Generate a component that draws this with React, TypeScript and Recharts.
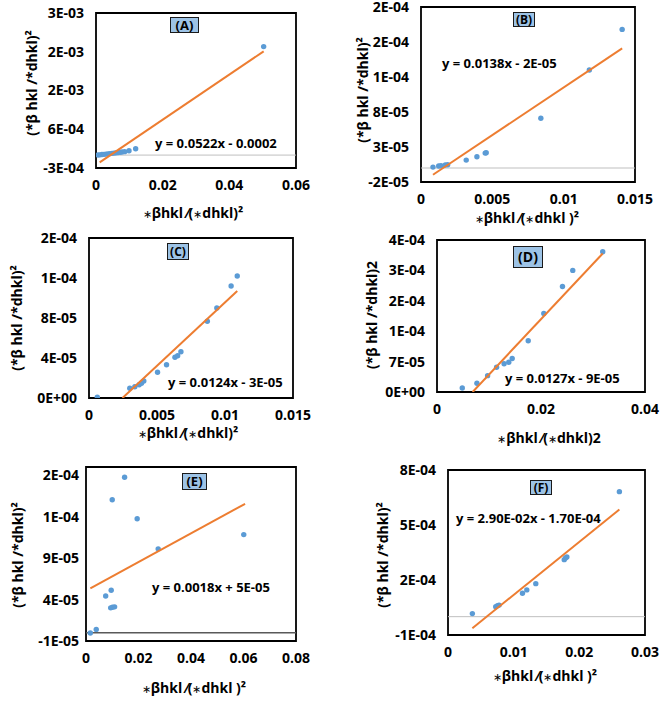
import React from "react";
import {
  ScatterChart,
  Scatter,
  XAxis,
  YAxis,
  ReferenceLine,
  ReferenceArea,
} from "recharts";

// Panel A
const aX = [0.0006, 0.0012, 0.0018, 0.0024, 0.003, 0.0036, 0.0042, 0.0048, 0.0054, 0.006, 0.0066, 0.0072, 0.0078, 0.0086, 0.0099, 0.0119, 0.0503];
const aY = [0.000002, 0.000006, 0.000012, 0.000017, 0.000023, 0.000029, 0.000035, 0.00004, 0.000046, 0.000052, 0.000058, 0.000064, 0.00007, 0.00008, 0.0001, 0.000148, 0.00252];
const aTrendX = [0.0011, 0.0503];
const aTrendY = [-0.00017, 0.00241];
const aXTicks = [0, 0.02, 0.04, 0.06];
const aYTicks = [-0.0003, 0.0006, 0.0015, 0.0024, 0.0033];
const aYLabels = ["-3E-04", "6E-04", "2E-03", "2E-03", "3E-03"];

// Panel B
const bX = [0.00084, 0.00124, 0.0014, 0.0017, 0.00187, 0.00317, 0.00392, 0.0045, 0.00457, 0.0084, 0.0118, 0.0141];
const bY = [0.0000013, 0.0000028, 0.0000032, 0.0000042, 0.0000047, 0.0000113, 0.000016, 0.0000213, 0.0000217, 0.000071, 0.00014, 0.000198];
const bTrendX = [0.00084, 0.0141];
const bTrendY = [-0.0000096, 0.000171];
const bXTicks = [0, 0.005, 0.01, 0.015];
const bYTicks = [-0.00002, 0.00003, 0.00008, 0.00013, 0.00018, 0.00023];
const bYLabels = ["-2E-05", "3E-05", "8E-05", "1E-04", "2E-04", "2E-04"];

// Panel C
const cX = [0.00061, 0.003, 0.00337, 0.00369, 0.00386, 0.00403, 0.00504, 0.0057, 0.00632, 0.00652, 0.00676, 0.0087, 0.0094, 0.01045, 0.0109];
const cY = [0.0000007, 0.0000097, 0.0000113, 0.0000133, 0.0000147, 0.000017, 0.0000257, 0.0000333, 0.0000407, 0.0000423, 0.0000463, 0.0000767, 0.00009, 0.000112, 0.000122];
const cTrendX = [0.00246, 0.0109];
const cTrendY = [0, 0.000107];
const cXTicks = [0, 0.005, 0.01, 0.015];
const cYTicks = [0, 0.00004, 0.00008, 0.00012, 0.00016];
const cYLabels = ["0E+00", "4E-05", "8E-05", "1E-04", "2E-04"];

// Panel D
const dX = [0.00486, 0.00768, 0.00973, 0.01146, 0.0129, 0.0138, 0.01446, 0.01754, 0.02054, 0.02413, 0.02611, 0.03187];
const dY = [0.0000092, 0.00002, 0.0000377, 0.000057, 0.000065, 0.0000685, 0.000077, 0.000118, 0.000181, 0.000243, 0.00028, 0.000323];
const dTrendX = [0.00685, 0.03187];
const dTrendY = [0, 0.000319];
const dXTicks = [0, 0.02, 0.04];
const dYTicks = [0, 0.00007, 0.00014, 0.00021, 0.00028, 0.00035];
const dYLabels = ["0E+00", "7E-05", "1E-04", "2E-04", "3E-04", "4E-04"];

// Panel E
const eX = [0.00165, 0.0039, 0.0075, 0.0096, 0.0094, 0.0101, 0.0109, 0.01, 0.0147, 0.0195, 0.0275, 0.0601];
const eY = [-0.0000004, 0.000004, 0.0000444, 0.0000512, 0.00003, 0.0000308, 0.0000312, 0.0001604, 0.0001876, 0.0001376, 0.0001012, 0.0001184];
const eTrendX = [0.00165, 0.0606];
const eTrendY = [0.0000536, 0.0001556];
const eXTicks = [0, 0.02, 0.04, 0.06, 0.08];
const eYTicks = [-0.00001, 0.00004, 0.00009, 0.00014, 0.00019];
const eYLabels = ["-1E-05", "4E-05", "9E-05", "1E-04", "2E-04"];

// Panel F
const fX = [0.00371, 0.00727, 0.00753, 0.00778, 0.01134, 0.012, 0.01337, 0.0177, 0.0179, 0.0181, 0.0261];
const fY = [0.0000167, 0.0000537, 0.0000593, 0.000063, 0.000128, 0.000146, 0.00018, 0.000311, 0.00032, 0.000326, 0.000682];
const fTrendX = [0.00371, 0.0261];
const fTrendY = [-0.000063, 0.000585];
const fXTicks = [0, 0.01, 0.02, 0.03];
const fYTicks = [-0.0001, 0.0002, 0.0005, 0.0008];
const fYLabels = ["-1E-04", "2E-04", "5E-04", "8E-04"];

const FONT = "'Open Sans', 'Liberation Sans', Arial, sans-serif";
const BLUE = "#5b9bd5";
const ORANGE = "#ed7d31";

const zip = (xs: number[], ys: number[]) => xs.map((x, i) => ({ x, y: ys[i] }));

type PanelProps = {
  box: [number, number, number, number]; // x0, x1, y0, y1 on the page
  xs: number[];
  ys: number[];
  trendX: number[];
  trendY: number[];
  xTicks: number[];
  yTicks: number[];
  yLabels: string[];
  xDomain: [number, number];
  yDomain: [number, number];
  zeroLine?: string;
  zeroWidth?: number;
  yTickGap?: number;
};

function Panel(p: PanelProps) {
  const [x0, x1, y0, y1] = p.box;
  const left = 70;
  const top = 20;
  const right = 30;
  const w = x1 - x0 + left + right;
  const h = y1 - y0 + top + 40;
  const tickStyle = { fontSize: 14, fontWeight: 700, fill: "#000", fontFamily: FONT };
  return (
    <div style={{ position: "absolute", left: x0 - left, top: y0 - top }}>
      <ScatterChart width={w} height={h} margin={{ top, right, bottom: 0, left: 0 }}>
        <XAxis
          type="number"
          dataKey="x"
          domain={p.xDomain}
          ticks={p.xTicks}
          allowDataOverflow
          axisLine={false}
          tickLine={false}
          tickSize={0}
          tickMargin={12}
          height={40}
          tick={tickStyle}
          interval={0}
        />
        <YAxis
          type="number"
          dataKey="y"
          domain={p.yDomain}
          ticks={p.yTicks}
          allowDataOverflow
          axisLine={false}
          tickLine={false}
          tickSize={0}
          tickMargin={p.yTickGap ?? 12}
          width={left}
          tick={tickStyle}
          interval={0}
          tickFormatter={(_v: number, i: number) => p.yLabels[i]}
        />
        {p.zeroLine && (
          <ReferenceLine y={0} stroke={p.zeroLine} strokeWidth={p.zeroWidth ?? 1} />
        )}
        <Scatter
          data={zip(p.xs, p.ys)}
          isAnimationActive={false}
          shape={(s: any) => <circle cx={s.cx} cy={s.cy} r={2.7} fill={BLUE} />}
        />
        <Scatter
          data={zip(p.trendX, p.trendY)}
          isAnimationActive={false}
          line={{ stroke: ORANGE, strokeWidth: 2 }}
          shape={() => <g />}
        />
        <ReferenceArea
          x1={p.xDomain[0]}
          x2={p.xDomain[1]}
          y1={p.yDomain[0]}
          y2={p.yDomain[1]}
          fill="none"
          stroke="#000"
          strokeWidth={1.8}
          ifOverflow="visible"
        />
      </ScatterChart>
    </div>
  );
}

const txt: React.CSSProperties = {
  position: "absolute",
  fontFamily: FONT,
  fontWeight: 700,
  color: "#000",
  whiteSpace: "nowrap",
  lineHeight: 1,
};

function Tag({ x0, x1, y0, y1, text, size = 13 }: { x0: number; x1: number; y0: number; y1: number; text: string; size?: number }) {
  return (
    <div
      style={{
        ...txt,
        left: x0,
        top: y0,
        width: x1 - x0,
        height: y1 - y0,
        boxSizing: "border-box",
        background: "#9dc3e6",
        border: "1.5px solid #1a1a1a",
        fontSize: size,
        display: "flex",
        alignItems: "center",
        justifyContent: "center",
      }}
    >
      {text}
    </div>
  );
}

function Eq({ x, cy, text }: { x: number; cy: number; text: string }) {
  return <div style={{ ...txt, left: x, top: cy - 7, fontSize: 13 }}>{text}</div>;
}

// the centred asterisk is drawn a little smaller, as in the reference
const starred = (text: string) =>
  text.split("∗").map((part, i) => (
    <React.Fragment key={i}>
      {i > 0 && <span style={{ fontSize: "0.75em", fontWeight: 400 }}>∗</span>}
      {part}
    </React.Fragment>
  ));

function XTitle({ cx, cy, text }: { cx: number; cy: number; text: string }) {
  return (
    <div style={{ ...txt, left: cx, top: cy, fontSize: 14, transform: "translate(-50%, -50%)" }}>{starred(text)}</div>
  );
}

function YTitle({ cx, cy, text }: { cx: number; cy: number; text: string }) {
  return (
    <div
      style={{ ...txt, left: cx, top: cy, fontSize: 14, transform: "translate(-50%, -50%) rotate(-90deg)" }}
    >
      {text}
    </div>
  );
}

const Y_TITLE = "(*β hkl /*dhkl)²";
const X_TITLE = "∗βhkl ⁄(∗dhkl)²";
const X_TITLE_SP = "∗βhkl ⁄(∗dhkl )²";

export default function App() {
  return (
    <div style={{ position: "absolute", left: 0, top: 0, width: 661, height: 704, background: "#fff", overflow: "hidden" }}>
      <Panel box={[96, 296, 13, 168]} xs={aX} ys={aY} trendX={aTrendX} trendY={aTrendY}
        xTicks={aXTicks} yTicks={aYTicks} yLabels={aYLabels} xDomain={[0, 0.06]} yDomain={[-0.0003, 0.0033]} zeroLine="#bfbfbf" />
      <Panel box={[421, 635, 7, 182]} xs={bX} ys={bY} trendX={bTrendX} trendY={bTrendY}
        xTicks={bXTicks} yTicks={bYTicks} yLabels={bYLabels} xDomain={[0, 0.015]} yDomain={[-0.00002, 0.00023]} zeroLine="#bfbfbf" />
      <Panel box={[89, 293, 238, 398]} xs={cX} ys={cY} trendX={cTrendX} trendY={cTrendY}
        xTicks={cXTicks} yTicks={cYTicks} yLabels={cYLabels} xDomain={[0, 0.015]} yDomain={[0, 0.00016]} />
      <Panel box={[437, 645, 240, 392]} xs={dX} ys={dY} trendX={dTrendX} trendY={dTrendY}
        xTicks={dXTicks} yTicks={dYTicks} yLabels={dYLabels} xDomain={[0, 0.04]} yDomain={[0, 0.00035]} />
      <Panel box={[86, 296, 467, 641]} xs={eX} ys={eY} trendX={eTrendX} trendY={eTrendY}
        xTicks={eXTicks} yTicks={eYTicks} yLabels={eYLabels} xDomain={[0, 0.08]} yDomain={[-0.00001, 0.0002]}
        zeroLine="#595959" zeroWidth={1.5} yTickGap={7} />
      <Panel box={[448, 645, 470, 635]} xs={fX} ys={fY} trendX={fTrendX} trendY={fTrendY}
        xTicks={fXTicks} yTicks={fYTicks} yLabels={fYLabels} xDomain={[0, 0.03]} yDomain={[-0.0001, 0.0008]} zeroLine="#bfbfbf" />

      <Tag x0={170} x1={199} y0={17} y1={33} text="(A)" />
      <Tag x0={513} x1={535} y0={12} y1={27} text="(B)" size={12} />
      <Tag x0={167} x1={189} y0={243} y1={260} text="(C)" size={12} />
      <Tag x0={513} x1={543} y0={246} y1={268} text="(D)" size={14} />
      <Tag x0={182} x1={207} y0={473} y1={490} text="(E)" />
      <Tag x0={530} x1={552} y0={480} y1={495} text="(F)" size={12} />

      <Eq x={155} cy={144} text="y = 0.0522x - 0.0002" />
      <Eq x={442} cy={64} text="y = 0.0138x - 2E-05" />
      <Eq x={168} cy={383} text="y = 0.0124x - 3E-05" />
      <Eq x={505} cy={379} text="y = 0.0127x - 9E-05" />
      <Eq x={152} cy={588} text="y = 0.0018x + 5E-05" />
      <Eq x={456} cy={519} text="y = 2.90E-02x - 1.70E-04" />

      <YTitle cx={32} cy={83} text={Y_TITLE} />
      <YTitle cx={363} cy={90} text={Y_TITLE} />
      <YTitle cx={17} cy={318} text={Y_TITLE} />
      <YTitle cx={372} cy={315} text="(*β hkl /*dhkl)2" />
      <YTitle cx={18} cy={555} text={Y_TITLE} />
      <YTitle cx={383} cy={555} text={Y_TITLE} />

      <XTitle cx={193} cy={213} text={X_TITLE} />
      <XTitle cx={527} cy={218} text={X_TITLE_SP} />
      <XTitle cx={188} cy={433} text={X_TITLE} />
      <XTitle cx={549} cy={438} text="∗βhkl ⁄(∗dhkl)2" />
      <XTitle cx={194} cy={688} text={X_TITLE_SP} />
      <XTitle cx={545} cy={676} text={X_TITLE_SP} />
    </div>
  );
}
